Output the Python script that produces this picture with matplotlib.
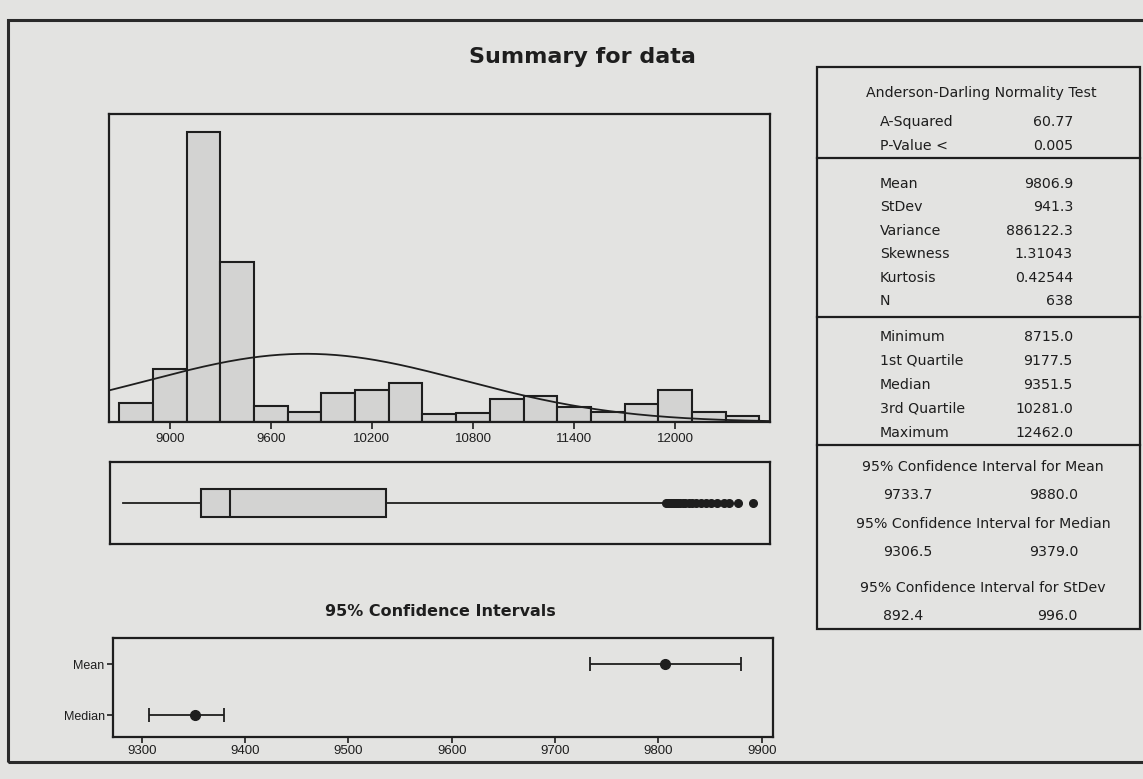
import numpy as np
import matplotlib
matplotlib.use("Agg")
import matplotlib.pyplot as plt
from matplotlib.patches import Rectangle
from matplotlib.lines import Line2D
from matplotlib import font_manager

# ---- data -------------------------------------------------------------
bin_lo = [8700, 8900, 9100, 9300, 9500, 9700, 9900, 10100, 10300, 10500,
          10700, 10900, 11100, 11300, 11500, 11700, 11900, 12100, 12300]
bin_width = 200
counts = [15, 42, 230, 127, 13, 8, 23, 25, 31, 6,
          7, 18, 21, 12, 8, 14, 25, 8, 5]

n_obs = 638
mean_val = 9806.9
stdev_val = 941.3
minimum = 8715.0
q1 = 9177.5
median_val = 9351.5
q3 = 10281.0
maximum = 12462.0
upper_whisker = 11930.0
outliers = [11945, 11955, 11965, 11975, 11985, 11995, 12005, 12015, 12030,
            12045, 12060, 12080, 12100, 12125, 12150, 12180, 12210, 12250,
            12290, 12320, 12375, 12462]

ci_mean = (9733.7, 9880.0)
ci_median = (9306.5, 9379.0)
ci_stdev = (892.4, 996.0)

hist_ticks = [9000, 9600, 10200, 10800, 11400, 12000]
ci_ticks = [9300, 9400, 9500, 9600, 9700, 9800, 9900]
ci_labels = ["Mean", "Median"]

ad_rows = [("A-Squared", "60.77"), ("P-Value <", "0.005")]
moment_rows = [("Mean", "9806.9"), ("StDev", "941.3"), ("Variance", "886122.3"),
               ("Skewness", "1.31043"), ("Kurtosis", "0.42544"), ("N", "638")]
quantile_rows = [("Minimum", "8715.0"), ("1st Quartile", "9177.5"),
                 ("Median", "9351.5"), ("3rd Quartile", "10281.0"),
                 ("Maximum", "12462.0")]
ci_rows = [("95% Confidence Interval for Mean", "9733.7", "9880.0"),
           ("95% Confidence Interval for Median", "9306.5", "9379.0"),
           ("95% Confidence Interval for StDev", "892.4", "996.0")]

# ---- style ------------------------------------------------------------
W, H = 1143, 779
PAPER = "#e3e3e1"
INK = "#1e1e1e"
BAR = "#d3d3d2"

names = {f.name for f in font_manager.fontManager.ttflist}
NARROW = "Liberation Sans Narrow" if "Liberation Sans Narrow" in names else "Liberation Sans"
plt.rcParams["font.family"] = "DejaVu Sans"


def fx(px):
    return px / W


def fy(py):
    return 1 - py / H


def axes_px(left, top, right, bottom):
    return [fx(left), fy(bottom), (right - left) / W, (bottom - top) / H]


fig = plt.figure(figsize=(W / 100, H / 100), dpi=100)
fig.patch.set_facecolor(PAPER)

# outer frame
fig.add_artist(Rectangle((fx(8), fy(762)), fx(1160 - 8), (762 - 20) / H,
                         transform=fig.transFigure, fill=False, lw=2.2, ec="#2a2a2a"))

fig.text(fx(582), fy(57), "Summary for data", ha="center", va="center",
         fontsize=16, fontweight="bold", color=INK)

xlim = (8639, 12563)


def style_frame(ax):
    ax.set_facecolor(PAPER)
    for s in ax.spines.values():
        s.set_linewidth(1.6)
        s.set_color(INK)


# ---- histogram --------------------------------------------------------
ax_h = fig.add_axes(axes_px(109, 114, 770, 422))
style_frame(ax_h)
ax_h.bar(bin_lo, counts, width=bin_width, align="edge", color=BAR,
         edgecolor=INK, linewidth=1.5, zorder=2)
xs = np.linspace(xlim[0], xlim[1], 400)
pdf = n_obs * bin_width * np.exp(-0.5 * ((xs - mean_val) / stdev_val) ** 2) / (stdev_val * np.sqrt(2 * np.pi))
ax_h.plot(xs, pdf, color=INK, lw=1.3, zorder=3)
ax_h.set_xlim(*xlim)
ax_h.set_ylim(0, 230 * 308 / 290)
ax_h.set_yticks([])
ax_h.set_xticks(hist_ticks)
ax_h.set_xticklabels([str(t) for t in hist_ticks], fontfamily=NARROW, fontsize=9.5, color=INK)
ax_h.tick_params(axis="x", direction="out", length=5, width=1.2, color=INK, pad=3)

# ---- boxplot ----------------------------------------------------------
ax_b = fig.add_axes(axes_px(110, 462, 770, 544))
style_frame(ax_b)
box_stats = [dict(med=median_val, q1=q1, q3=q3, whislo=minimum,
                  whishi=upper_whisker, fliers=outliers)]
ax_b.bxp(box_stats, positions=[0.5], widths=0.33, orientation="horizontal",
         showcaps=False, patch_artist=True,
         boxprops=dict(facecolor=BAR, edgecolor=INK, linewidth=1.5),
         medianprops=dict(color=INK, linewidth=1.5),
         whiskerprops=dict(color=INK, linewidth=1.3),
         flierprops=dict(marker="o", markersize=5.5, markerfacecolor=INK,
                         markeredgecolor=INK))
ax_b.set_xlim(*xlim)
ax_b.set_ylim(0, 1)
ax_b.set_xticks([])
ax_b.set_yticks([])

# ---- confidence intervals --------------------------------------------
ax_c = fig.add_axes(axes_px(113, 638, 773, 737))
style_frame(ax_c)
ci_centers = [mean_val, median_val]
ci_bounds = [ci_mean, ci_median]
ci_pos = [2, 1]
for c, (lo, hi), y in zip(ci_centers, ci_bounds, ci_pos):
    ax_c.errorbar([c], [y], xerr=[[c - lo], [hi - c]], fmt="o", color=INK,
                  markersize=7, elinewidth=1.3, capsize=5, capthick=1.3)
ax_c.set_xlim(9272, 9911)
ax_c.set_ylim(0.57, 2.51)
ax_c.set_xticks(ci_ticks)
ax_c.set_xticklabels([str(t) for t in ci_ticks], fontfamily=NARROW, fontsize=9.5, color=INK)
ax_c.set_yticks(ci_pos)
ax_c.set_yticklabels(ci_labels, fontfamily=NARROW, fontsize=9, color=INK)
ax_c.tick_params(axis="both", direction="out", length=4, width=1.2, color=INK, pad=2)
fig.text(fx(440), fy(612), "95% Confidence Intervals", ha="center", va="center",
         fontsize=11.5, fontweight="bold", color=INK)

# ---- statistics panel -------------------------------------------------
P_L, P_R, P_T, P_B = 817, 1140, 67, 629
fig.add_artist(Rectangle((fx(P_L), fy(P_B)), (P_R - P_L) / W, (P_B - P_T) / H,
                         transform=fig.transFigure, fill=False, lw=1.6, ec=INK))
for yl in (158, 317, 445):
    fig.add_artist(Line2D([fx(P_L), fx(P_R)], [fy(yl), fy(yl)],
                          transform=fig.transFigure, lw=1.6, color=INK))

TXT = dict(fontsize=10.2, color=INK, va="center")
fig.text(fx(981), fy(93), "Anderson-Darling Normality Test", ha="center", **TXT)


def stat_rows(rows, y0, dy):
    for i, (lab, val) in enumerate(rows):
        y = y0 + i * dy
        fig.text(fx(880), fy(y), lab, ha="left", **TXT)
        fig.text(fx(1073), fy(y), val, ha="right", **TXT)


stat_rows(ad_rows, 122, 24)
stat_rows(moment_rows, 184, 23.4)
stat_rows(quantile_rows, 337, 24)

ci_y = [467, 524, 588]
for (head, lo, hi), y in zip(ci_rows, ci_y):
    fig.text(fx(983), fy(y), head, ha="center", **TXT)
    fig.text(fx(883), fy(y + 28), lo, ha="left", **TXT)
    fig.text(fx(1078), fy(y + 28), hi, ha="right", **TXT)

fig.savefig("out.png", dpi=100, facecolor=PAPER)
